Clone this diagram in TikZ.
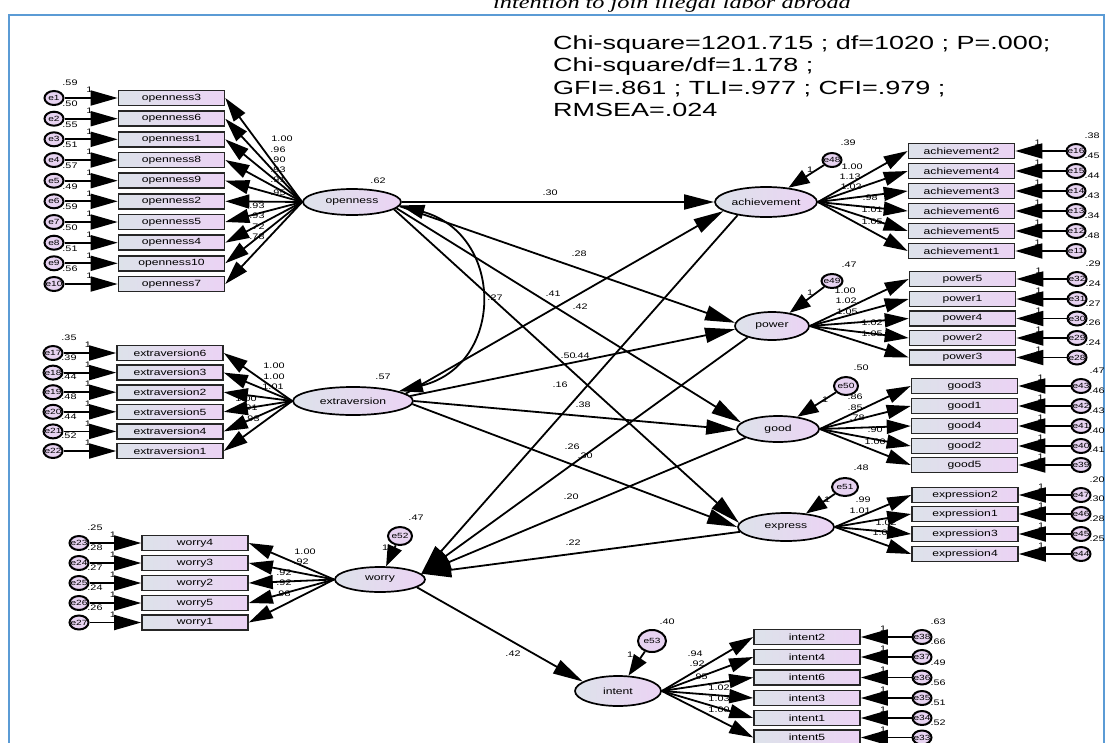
\documentclass[tikz,border=0pt]{standalone}
\usepackage{fontspec}
\setmainfont{Liberation Sans}
\newfontfamily\capfont{Liberation Serif}
\usetikzlibrary{arrows.meta,shapes.geometric}
\definecolor{boxL}{HTML}{DDE2EA}
\definecolor{boxR}{HTML}{EBD3F4}
\definecolor{errF}{HTML}{E7D3F1}
\definecolor{frameC}{HTML}{5B9BD5}
\newcommand\sx[1]{\scalebox{1.35}[1]{#1}}
\newcommand\sxx[1]{\scalebox{1.42}[1]{#1}}
% left indicator: name, text, boxx, y, errx, errname, variance
\newcommand\leftind[7]{%
  \node[ind] (#1) at (#3,#4) {\sx{#2}};
  \node[err,label={[elab]center:\sx{#6}}] (#1e) at (#5,#4) {};
  \node[num] (#1v) at ({#5+16},{#4-15}) {\sx{#7}};
  \node[num] (#1o) at ({#3-82},{#4-8}) {\sx{1}};
  \draw[earr] (#1e) -- (#1);
}
\newcommand\rightind[7]{%
  \node[ind] (#1) at (#3,#4) {\sx{#2}};
  \node[err,label={[elab]center:\sx{#6}}] (#1e) at (#5,#4) {};
  \node[num] (#1v) at ({#5+16},{#4-15}) {\sx{#7}};
  \node[num] (#1o) at ({#3+76},{#4-8}) {\sx{1}};
  \draw[earr] (#1e) -- (#1);
}
\newcommand\nl[3]{\node[num] at (#1,#2) {\sx{#3}};}
\begin{document}
\begin{tikzpicture}[x=1pt,y=-1pt,
  ind/.style={draw=black!85, line width=1.6pt, left color=boxL, right color=boxR,
    minimum width=106pt, minimum height=15pt, inner sep=0pt, font=\fontsize{9}{10}\selectfont},
  lat/.style={ellipse, draw=black, line width=1.7pt, left color=boxL, right color=boxR,
    inner sep=0pt, font=\fontsize{9}{10}\selectfont},
  err/.style={ellipse, draw=black, line width=2pt, fill=errF, inner sep=0pt,
    minimum width=19pt, minimum height=14pt},
  elab/.style={font=\fontsize{7.5}{7.5}\selectfont, inner sep=0pt},
  num/.style={font=\fontsize{8}{8}\selectfont, inner sep=0pt},
  earr/.style={line width=1.8pt, -{Triangle[length=27pt,width=15pt]}},
  larr/.style={line width=1.8pt, -{Triangle[length=24pt,width=14pt]}},
  sarr/.style={line width=1.8pt, -{Triangle[length=30pt,width=15pt]}},
  darr/.style={line width=1.8pt, -{Triangle[length=21pt,width=15pt]}},
  fit/.style={font=\fontsize{19}{19}\selectfont, anchor=base west, inner sep=0pt}
]
\useasboundingbox (0,0) rectangle (1108,742);
\fill[white] (0,0) rectangle (1108,742);
\draw[frameC, line width=1.2pt] (9,15) rectangle (1104,780);
\node[font=\capfont\itshape\fontsize{18}{18}\selectfont, anchor=base, inner sep=0pt] (cap) at (672,8) {\sx{intention to join illegal labor abroad}};

\node[fit] (f1) at (553,49) {\sxx{Chi-square=1201.715 ; df=1020 ; P=.000;}};
\node[fit] (f2) at (553,71.5) {\sxx{Chi-square/df=1.178 ;}};
\node[fit] (f3) at (553,94) {\sxx{GFI=.861 ; TLI=.977 ; CFI=.979 ;}};
\node[fit] (f4) at (553,116.5) {\sxx{RMSEA=.024}};

% latent variables
\node[lat, minimum width=98pt, minimum height=26pt] (open) at (352,202) {\sx{openness}};
\node[lat, minimum width=120pt, minimum height=28pt] (extra) at (353,401) {\sx{extraversion}};
\node[lat, minimum width=90pt, minimum height=25pt] (worry) at (380,579.5) {\sx{worry}};
\node[lat, minimum width=102pt, minimum height=30pt] (ach) at (766,202) {\sx{achievement}};
\node[lat, minimum width=74pt, minimum height=28pt] (pow) at (772,326) {\sx{power}};
\node[lat, minimum width=82pt, minimum height=26pt] (good) at (778,429) {\sx{good}};
\node[lat, minimum width=96pt, minimum height=28pt] (expr) at (786,527) {\sx{express}};
\node[lat, minimum width=86pt, minimum height=30pt] (intent) at (618,691) {\sx{intent}};

% disturbances
\node[err, minimum width=19pt, minimum height=14pt, label={[elab]center:\sx{e48}}] (e48) at (832,160) {};
\node[err, minimum width=21pt, minimum height=14pt, label={[elab]center:\sx{e49}}] (e49) at (832,281) {};
\node[err, minimum width=24pt, minimum height=18pt, label={[elab]center:\sx{e50}}] (e50) at (846,386) {};
\node[err, minimum width=26pt, minimum height=18pt, label={[elab]center:\sx{e51}}] (e51) at (845,487) {};
\node[err, minimum width=24pt, minimum height=18pt, label={[elab]center:\sx{e52}}] (e52) at (400,536) {};
\node[err, minimum width=28pt, minimum height=22pt, label={[elab]center:\sx{e53}}] (e53) at (652,641) {};

% openness indicators
\leftind{o3}{openness3}{171.5}{98}{54}{e1}{.59}
\leftind{o6}{openness6}{171.5}{118.7}{54}{e2}{.50}
\leftind{o1}{openness1}{171.5}{139.3}{54}{e3}{.55}
\leftind{o8}{openness8}{171.5}{160}{54}{e4}{.51}
\leftind{o9}{openness9}{171.5}{180.7}{54}{e5}{.57}
\leftind{o2}{openness2}{171.5}{201.3}{54}{e6}{.49}
\leftind{o5}{openness5}{171.5}{222}{54}{e7}{.59}
\leftind{o4}{openness4}{171.5}{242.7}{54}{e8}{.50}
\leftind{o10}{openness10}{171.5}{263.3}{54}{e9}{.51}
\leftind{o7}{openness7}{171.5}{284}{54}{e10}{.56}
% extraversion indicators
\leftind{x6}{extraversion6}{170}{353}{53}{e17}{.35}
\leftind{x3}{extraversion3}{170}{372.6}{53}{e18}{.39}
\leftind{x2}{extraversion2}{170}{392.2}{53}{e19}{.44}
\leftind{x5}{extraversion5}{170}{411.8}{53}{e20}{.48}
\leftind{x4}{extraversion4}{170}{431.4}{53}{e21}{.44}
\leftind{x1}{extraversion1}{170}{451}{53}{e22}{.52}
% worry indicators
\leftind{w4}{worry4}{195}{543}{79}{e23}{.25}
\leftind{w3}{worry3}{195}{563}{79}{e24}{.28}
\leftind{w2}{worry2}{195}{583}{79}{e25}{.27}
\leftind{w5}{worry5}{195}{603}{79}{e26}{.24}
\leftind{w1}{worry1}{195}{622.5}{79}{e27}{.26}
% achievement indicators
\rightind{a2}{achievement2}{961.5}{151}{1076}{e16}{.38}
\rightind{a4}{achievement4}{961.5}{171}{1076}{e15}{.45}
\rightind{a3}{achievement3}{961.5}{191}{1076}{e14}{.44}
\rightind{a6}{achievement6}{961.5}{211}{1076}{e13}{.43}
\rightind{a5}{achievement5}{961.5}{231}{1076}{e12}{.34}
\rightind{a1}{achievement1}{961.5}{251}{1076}{e11}{.48}
% power indicators
\rightind{p5}{power5}{962.5}{279}{1077}{e32}{.29}
\rightind{p1}{power1}{962.5}{299}{1077}{e31}{.24}
\rightind{p4}{power4}{962.5}{318.5}{1077}{e30}{.27}
\rightind{p2}{power2}{962.5}{338}{1077}{e29}{.26}
\rightind{p3}{power3}{962.5}{357.5}{1077}{e28}{.24}
% good indicators
\rightind{g3}{good3}{964.5}{386}{1081}{e43}{.47}
\rightind{g1}{good1}{964.5}{406}{1081}{e42}{.46}
\rightind{g4}{good4}{964.5}{426}{1081}{e41}{.43}
\rightind{g2}{good2}{964.5}{446}{1081}{e40}{.40}
\rightind{g5}{good5}{964.5}{465}{1081}{e39}{.41}
% express indicators
\rightind{r2}{expression2}{965}{495}{1081}{e47}{.20}
\rightind{r1}{expression1}{965}{514}{1081}{e46}{.30}
\rightind{r3}{expression3}{965}{534}{1081}{e45}{.28}
\rightind{r4}{expression4}{965}{554}{1081}{e44}{.25}
% intent indicators
\rightind{i2}{intent2}{807}{637}{922}{e38}{.63}
\rightind{i4}{intent4}{807}{657}{922}{e37}{.66}
\rightind{i6}{intent6}{807}{677.5}{922}{e36}{.49}
\rightind{i3}{intent3}{807}{698}{922}{e35}{.56}
\rightind{i1}{intent1}{807}{718}{922}{e34}{.51}
\rightind{i5}{intent5}{807}{737.5}{922}{e33}{.52}

% variance labels of latents / disturbances
\nl{378}{181}{.62}
\nl{383}{377}{.57}
\nl{848}{143}{.39} \nl{810}{170}{1}
\nl{849}{265}{.47} \nl{810}{293}{1}
\nl{861}{368}{.50} \nl{825}{400}{1}
\nl{861}{468}{.48} \nl{827}{500}{1}
\nl{416}{518}{.47} \nl{385}{548}{1}
\nl{667}{622}{.40} \nl{630}{655}{1}

% loading labels
\nl{282}{139}{1.00} \nl{278}{150}{.96} \nl{278}{160}{.90} \nl{278}{170}{.93}
\nl{278}{180}{.91} \nl{278}{193}{.95} \nl{257}{206}{.93} \nl{257}{216}{.93}
\nl{257}{227}{.72} \nl{257}{237}{.78}
\nl{274}{366}{1.00} \nl{274}{377}{1.00} \nl{273}{387}{1.01} \nl{246}{399}{1.00}
\nl{250}{408}{.91} \nl{252}{419}{.93}
\nl{305}{552}{1.00} \nl{301}{562}{.92} \nl{284}{573}{.92} \nl{284}{583}{.92} \nl{283}{594}{.98}
\nl{852}{167}{1.00} \nl{850}{177}{1.13} \nl{851}{187}{1.02} \nl{870}{198}{.98}
\nl{872}{210}{1.01} \nl{872}{222}{1.05}
\nl{845}{291}{1.00} \nl{846}{301}{1.02} \nl{847}{312}{1.05} \nl{872}{323}{1.02} \nl{872}{334}{1.05}
\nl{855}{397}{.86} \nl{855}{408}{.85} \nl{857}{418}{.78} \nl{875}{430}{.90} \nl{875}{442}{1.00}
\nl{863}{500}{.99} \nl{860}{511}{1.01} \nl{886}{523}{1.02} \nl{883}{533}{1.00}
\nl{695}{654}{.94} \nl{697}{664}{.92} \nl{700}{677}{.95} \nl{719}{688}{1.02}
\nl{719}{699}{1.03} \nl{719}{710}{1.00}

% structural labels
\nl{550}{193}{.30} \nl{579}{254}{.28} \nl{553}{294}{.41} \nl{580}{307}{.42}
\nl{495}{298}{.27} \nl{568}{356}{.50} \nl{582}{356}{.44} \nl{560}{385}{.16}
\nl{583}{405}{.38} \nl{572}{447}{.26} \nl{585}{456}{.30} \nl{571}{497}{.20}
\nl{573}{543}{.22} \nl{513}{654}{.42}

% loadings
\foreach \b in {o3,o6,o1,o8,o9,o2,o5,o4,o10,o7} \draw[larr] (open.west) -- (\b.east);
\foreach \b in {x6,x3,x2,x5,x4,x1} \draw[larr] (extra.west) -- (\b.east);
\foreach \b in {w4,w3,w2,w5,w1} \draw[larr] (worry.west) -- (\b.east);
\foreach \b in {a2,a4,a3,a6,a5,a1} \draw[larr] (ach.east) -- (\b.west);
\foreach \b in {p5,p1,p4,p2,p3} \draw[larr] (pow.east) -- (\b.west);
\foreach \b in {g3,g1,g4,g2,g5} \draw[larr] (good.east) -- (\b.west);
\foreach \b in {r2,r1,r3,r4} \draw[larr] (expr.east) -- (\b.west);
\foreach \b in {i2,i4,i6,i3,i1,i5} \draw[larr] (intent.east) -- (\b.west);

% disturbances
\draw[darr] (e48) -- (ach);
\draw[darr] (e49) -- (pow);
\draw[darr] (e50) -- (good);
\draw[darr] (e51) -- (expr);
\draw[darr] (e52) -- (worry);
\draw[darr] (e53) -- (intent);

% structural paths
\draw[sarr] (open.east) -- (ach.west);
\draw[sarr] (open.-5) -- (pow.175);
\draw[sarr] (open.-8) -- (good.170);
\draw[sarr] (open.-10) -- (expr.175);
\draw[sarr] (extra.8) -- (ach.192);
\draw[sarr] (extra.5) -- (pow.185);
\draw[sarr] (extra.0) -- (good.181);
\draw[sarr] (extra.-3) -- (expr.180);
\draw[sarr] (ach.205) -- (worry.8);
\draw[sarr] (pow.205) -- (worry.8);
\draw[sarr] (good.195) -- (worry.8);
\draw[sarr] (expr.186) -- (worry.8);
\draw[sarr] (worry.-12) -- (intent.165);
% covariance
\draw[line width=1.8pt, {Triangle[length=24pt,width=14pt]}-{Triangle[length=24pt,width=14pt]}]
  (open.-4) .. controls (505,235) and (505,365) .. (extra.12);
\end{tikzpicture}
\end{document}
